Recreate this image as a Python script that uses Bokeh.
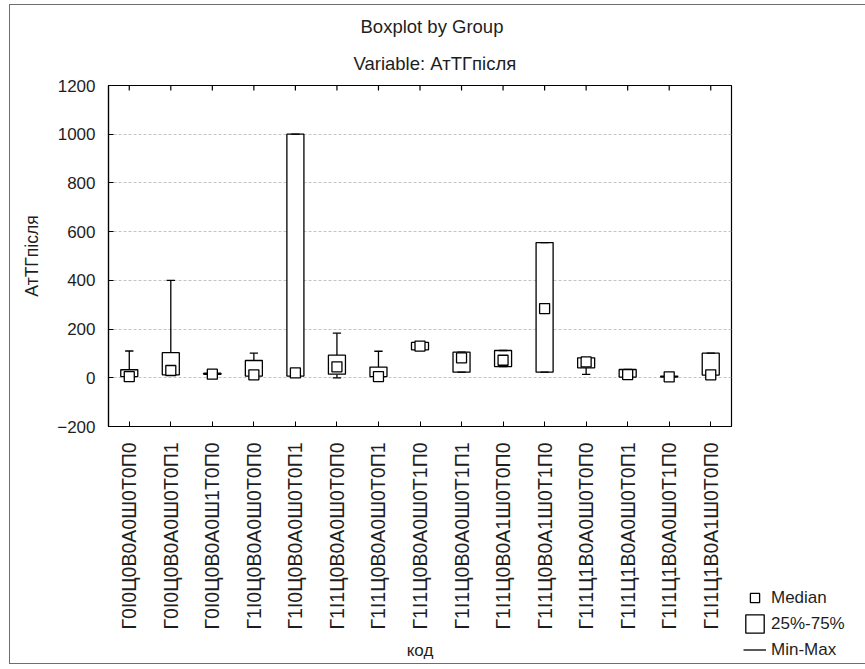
import math
from bokeh.plotting import figure
from bokeh.models import (Range1d, FixedTicker, Title, Legend, LegendItem, ColumnDataSource)
from bokeh.transform import dodge
from bokeh.embed import file_html
from bokeh.resources import INLINE

# ---- data ----
groups = [
    "Г0І0Ц0В0А0Ш0Т0П0",
    "Г0І0Ц0В0А0Ш0Т0П1",
    "Г0І0Ц0В0А0Ш1Т0П0",
    "Г1І0Ц0В0А0Ш0Т0П0",
    "Г1І0Ц0В0А0Ш0Т0П1",
    "Г1І1Ц0В0А0Ш0Т0П0",
    "Г1І1Ц0В0А0Ш0Т0П1",
    "Г1І1Ц0В0А0Ш0Т1П0",
    "Г1І1Ц0В0А0Ш0Т1П1",
    "Г1І1Ц0В0А1Ш0Т0П0",
    "Г1І1Ц0В0А1Ш0Т1П0",
    "Г1І1Ц1В0А0Ш0Т0П0",
    "Г1І1Ц1В0А0Ш0Т0П1",
    "Г1І1Ц1В0А0Ш0Т1П0",
    "Г1І1Ц1В0А1Ш0Т0П0",
]
mins    = [0,   12, 14, 7,  7,    0,   5,   115, 23,  46,  23,  14, 3,  3, 11]
q1s     = [5,   12, 14, 7,  7,    15,  5,   115, 23,  46,  23,  41, 3,  3, 11]
medians = [5,   30, 15, 12, 20,   45,  5,   130, 82,  72,  284, 65, 13, 4, 12]
q3s     = [33,  103, 19, 71, 1000, 93, 44,  145, 105, 112, 555, 82, 34, 7, 101]
maxs    = [110, 400, 19, 101, 1000, 183, 109, 145, 105, 112, 555, 82, 34, 7, 101]
y_ticks = [-200, 0, 200, 400, 600, 800, 1000, 1200]
title_text = "Boxplot by Group"
subtitle_text = "Variable: АтТГпісля"
x_title = "код"
y_title = "АтТГпісля"
legend_labels = ["Median", "25%-75%", "Min-Max"]

FONT = "Liberation Sans"
TXT = "#1e1e1e"

xpos = list(range(1, len(groups) + 1))
src = ColumnDataSource(dict(x=xpos, g=groups, mn=mins, q1=q1s, md=medians, q3=q3s, mx=maxs))
top_src = ColumnDataSource(dict(x=xpos, top=[y_ticks[-1]] * len(xpos)))

# canvas sits inside a 1px page border at (9,4)-(858,663)
CW, CH = 848, 658
FW, FH = 623, 341
BL, BR, BT, BB = 98, 127, 80, 237
px_per_unit = FH / (y_ticks[-1] - y_ticks[0])

p = figure(width=CW, height=CH, frame_width=FW, frame_height=FH, title=None,
           x_range=Range1d(0.5, len(groups) + 0.5), y_range=Range1d(y_ticks[0], y_ticks[-1]),
           output_backend="svg", toolbar_location=None,
           min_border_left=BL, min_border_right=BR, min_border_top=BT, min_border_bottom=BB,
           margin=(4, 0, 0, 9))
p.styles = {"border": "1px solid #6e6e6e"}
p.background_fill_color = "white"
p.border_fill_color = "white"
p.outline_line_color = "black"
p.outline_line_width = 1.2

# titles (first added sits closest to the frame); left-aligned with offsets so that
# they are centred on the page as in the reference
p.add_layout(Title(text=subtitle_text, align="left", offset=245, standoff=24,
                   text_font=FONT, text_font_size="18.5px", text_font_style="normal",
                   text_color=TXT), "above")
p.add_layout(Title(text=title_text, align="left", offset=252, standoff=3,
                   text_font=FONT, text_font_size="18.5px", text_font_style="normal",
                   text_color=TXT), "above")

# axes
p.xaxis.ticker = FixedTicker(ticks=xpos)
p.xaxis.major_label_overrides = {i: g for i, g in zip(xpos, groups)}
p.xaxis.major_label_orientation = math.pi / 2
p.xaxis.major_label_text_font = FONT
p.xaxis.major_label_text_font_size = "19.5px"
p.xaxis.major_label_text_color = TXT
p.xaxis.major_label_standoff = 16
p.xaxis.major_tick_in = 5
p.xaxis.major_tick_out = 0
p.xaxis.minor_tick_line_color = None
p.xaxis.axis_line_color = "black"
p.xaxis.axis_line_width = 1.2
p.xaxis.axis_label = x_title
p.xaxis.axis_label_text_font = FONT
p.xaxis.axis_label_text_font_size = "17px"
p.xaxis.axis_label_text_font_style = "normal"
p.xaxis.axis_label_text_color = TXT
p.xaxis.axis_label_standoff = 9

p.yaxis.ticker = FixedTicker(ticks=y_ticks)
p.yaxis.major_label_text_font = FONT
p.yaxis.major_label_text_font_size = "17px"
p.yaxis.major_label_text_color = TXT
p.yaxis.major_label_standoff = 13
p.yaxis.major_tick_in = 5
p.yaxis.major_tick_out = 0
p.yaxis.minor_tick_line_color = None
p.yaxis.axis_line_color = "black"
p.yaxis.axis_line_width = 1.2
p.yaxis.axis_label = y_title
p.yaxis.axis_label_text_font = FONT
p.yaxis.axis_label_text_font_size = "17.5px"
p.yaxis.axis_label_text_font_style = "normal"
p.yaxis.axis_label_text_color = TXT
p.yaxis.axis_label_standoff = 12

p.xgrid.grid_line_color = None
p.ygrid.ticker = FixedTicker(ticks=y_ticks)
p.ygrid.grid_line_color = "#c4c4c4"
p.ygrid.grid_line_dash = "3 2"
p.ygrid.grid_line_width = 1

# inward tick marks on the top edge of the frame
tick_len = 5 / px_per_unit
p.segment(x0="x", x1="x", y0="top", y1=dodge("top", -tick_len), source=top_src,
          line_color="black", line_width=1.2)

# whiskers
p.segment(x0="x", y0="q3", x1="x", y1="mx", source=src, line_color="black", line_width=1.3)
p.segment(x0="x", y0="mn", x1="x", y1="q1", source=src, line_color="black", line_width=1.3)
# boxes
r_box = p.vbar(x="x", bottom="q1", top="q3", width=0.41, source=src,
               fill_color="white", line_color="black", line_width=1.3)
# caps
r_cap = p.segment(x0=dodge("x", -0.1), x1=dodge("x", 0.1),
                  y0="mx", y1="mx", source=src, line_color="black", line_width=1.3)
p.segment(x0=dodge("x", -0.1), x1=dodge("x", 0.1),
          y0="mn", y1="mn", source=src, line_color="black", line_width=1.3)
# medians
r_med = p.scatter(x="x", y="md", source=src, marker="square", size=10,
                  fill_color="white", line_color="black", line_width=1.3)

legend = Legend(items=[LegendItem(label=legend_labels[0], renderers=[r_med]),
                       LegendItem(label=legend_labels[1], renderers=[r_box]),
                       LegendItem(label=legend_labels[2], renderers=[r_cap])],
                location=(12, -235), orientation="vertical",
                glyph_width=23, glyph_height=23, label_standoff=5, spacing=3,
                padding=0, margin=0, border_line_color=None, background_fill_alpha=0,
                label_text_font=FONT, label_text_font_size="17px", label_text_color=TXT)
p.add_layout(legend, "right")

open("out.html", "w").write(file_html(p, INLINE))
